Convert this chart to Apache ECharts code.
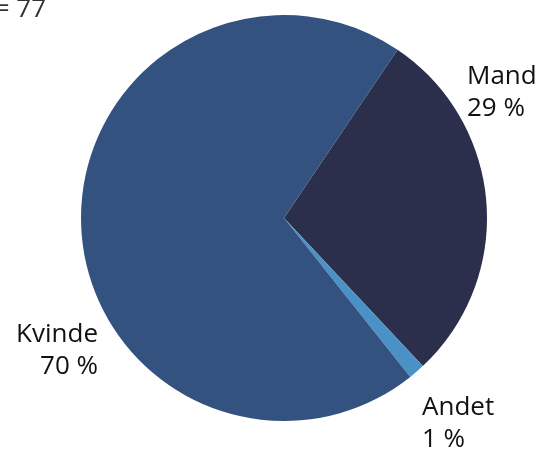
<!DOCTYPE html>
<html>
<head>
<meta charset="utf-8">
<script src="https://cdn.jsdelivr.net/npm/echarts@6/dist/echarts.min.js"></script>
<style>html,body{margin:0;padding:0;background:#fff}#c{width:541px;height:450px}</style>
</head>
<body>
<div id="c"></div>
<script>
const categories = ['Mand', 'Andet', 'Kvinde'];
const values = [22, 1, 54];
const colors = ['#2b2f4b', '#4a92c6', '#33527f'];
const totalText = 'n = 77';

const labelPos = [
  { x: 467, y: 61, align: 'left' },
  { x: 422, y: 392, align: 'left' },
  { x: 98, y: 319, align: 'right' }
];

const chart = echarts.init(document.getElementById('c'));
chart.setOption({
  animation: false,
  graphic: [{
    type: 'text', left: -28, top: -3,
    style: { text: totalText, fontSize: 26, fontFamily: 'Open Sans', fill: '#333' }
  }],
  series: [{
    type: 'pie',
    center: [284, 218],
    radius: 203,
    startAngle: 56,
    clockwise: true,
    percentPrecision: 0,
    data: categories.map((c, i) => ({ name: c, value: values[i], itemStyle: { color: colors[i] } })),
    label: {
      show: true,
      position: 'outside',
      formatter: '{b}\n{d} %',
      fontSize: 26,
      lineHeight: 32,
      fontFamily: 'Open Sans',
      color: '#111',
      overflow: 'none'
    },
    labelLine: { show: false },
    labelLayout: function (p) {
      const l = labelPos[p.dataIndex];
      return { x: l.x, y: l.y, align: l.align, verticalAlign: 'top', hideOverlap: false };
    },
    emphasis: { disabled: true }
  }]
});
</script>
</body>
</html>
